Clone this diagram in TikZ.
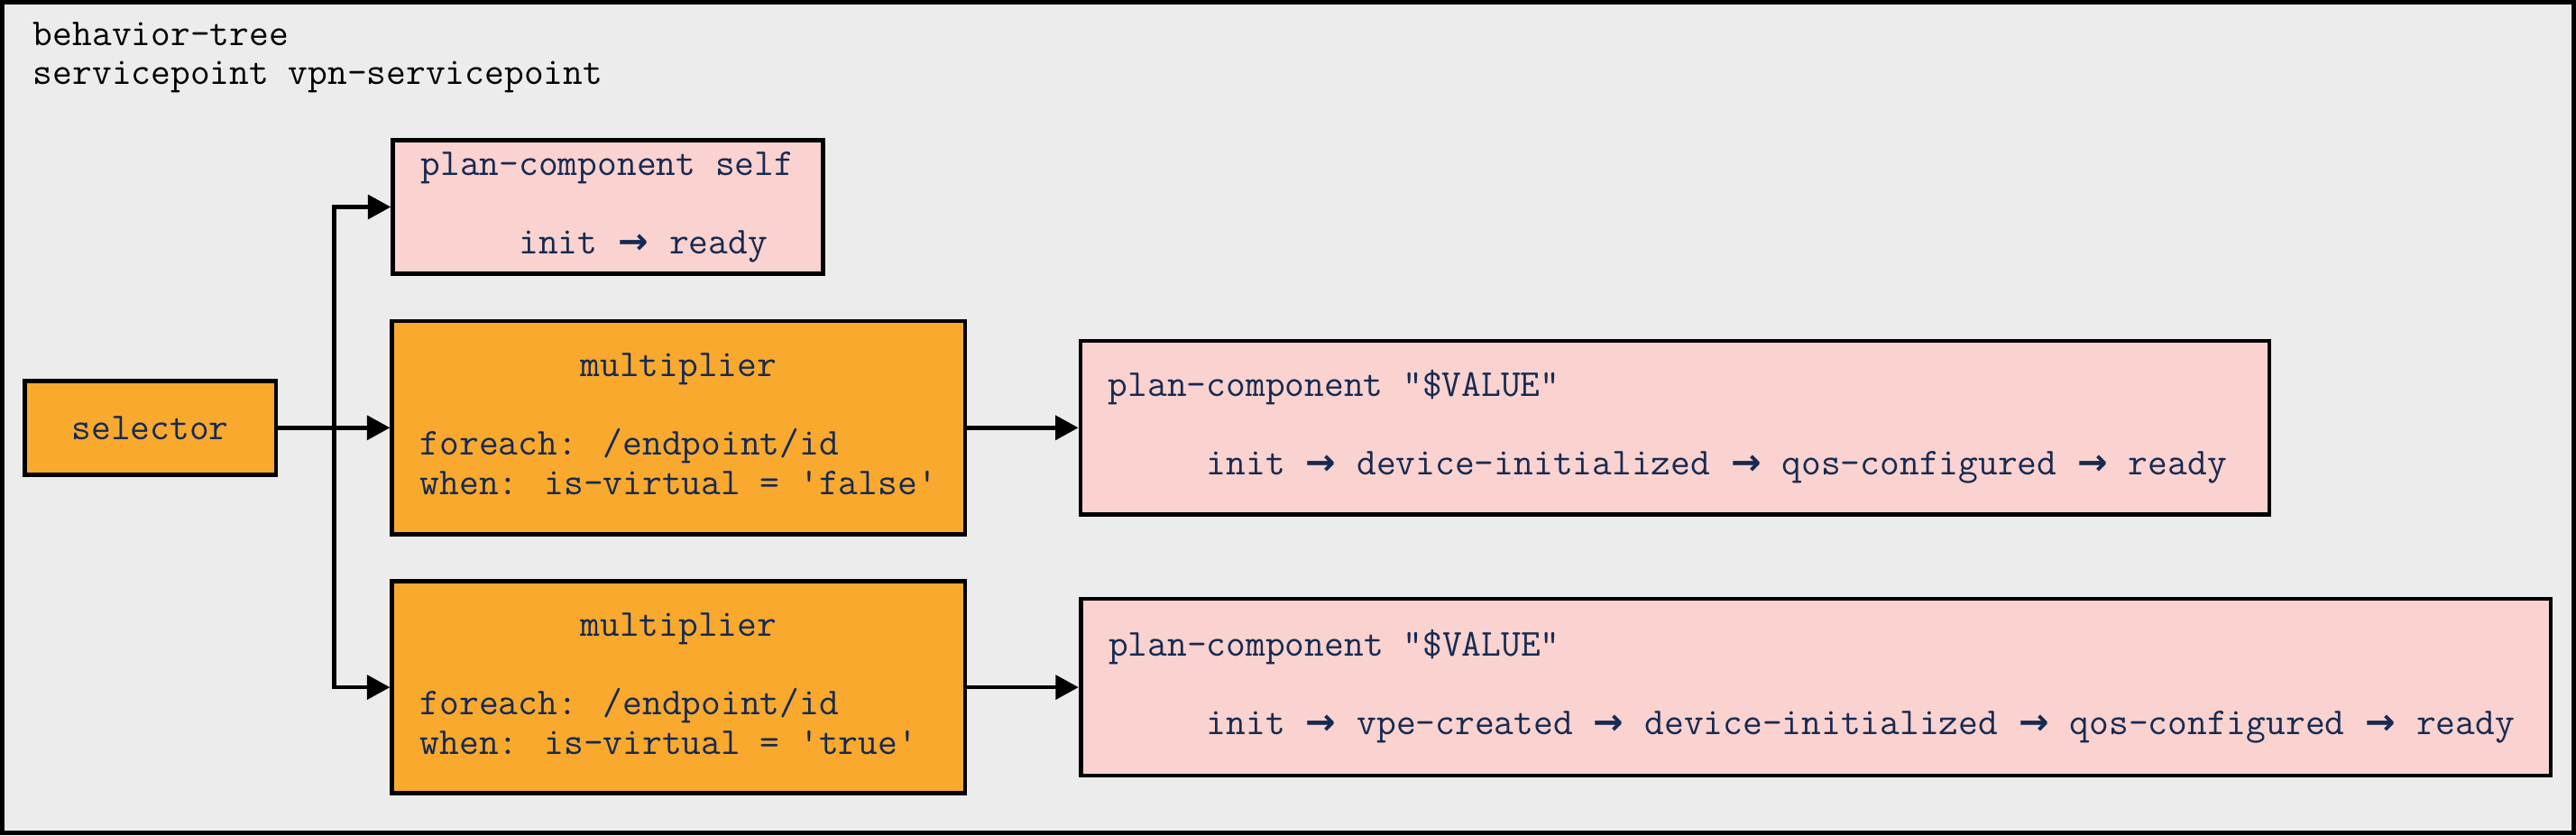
\documentclass[tikz,border=0pt]{standalone}
\usepackage{fontspec}
\newfontfamily\arrowfont{DejaVu Sans}
\usetikzlibrary{arrows.meta}
\definecolor{bggrey}{RGB}{236,236,236}
\definecolor{orangefill}{RGB}{249,169,46}
\definecolor{pinkfill}{RGB}{250,210,207}
\definecolor{navytext}{RGB}{22,42,82}
\newcommand{\nxt}{\makebox[9.9pt]{\arrowfont\bfseries\fontsize{11}{12}\selectfont →}}

\begin{document}
\begin{tikzpicture}[x=0.5pt, y=-0.5pt, line width=1.3pt, >={Triangle[length=7pt,width=7.3pt]}]
\tikzstyle{every node} = [font=\ttfamily\fontsize{11.6}{12}\selectfont, inner ysep=0pt, inner xsep=8.5pt]
\tikzstyle{plan} = [draw=black, fill=pinkfill, text=navytext]
\tikzstyle{mult} = [draw=black, fill=orangefill, text=navytext]
\useasboundingbox (0,0) rectangle (1568,508.4);
\draw[fill=bggrey, line width=1.4pt] (1.4,1.4) rectangle (1566.6,507);
\node[anchor=base west, inner sep=0pt] (title) at (19,27.5) {\begin{tabular}[t]{@{}l@{}}behavior-tree\\servicepoint vpn-servicepoint\end{tabular}};
\node[mult, inner sep=0pt, minimum width=76.5pt, minimum height=28.5pt] (sel) at (91.5,260.4) {selector};
\node[plan, minimum height=40.8pt] (self) at (370,126) {\begin{tabular}{@{}p{113.8pt}@{}}plan-component self\\ \\ ~~~~~init \nxt{} ready\end{tabular}};
\node[mult, minimum height=64.9pt] (mfalse) at (413.1,260.4) {\begin{tabular}{@{}p{157.4pt}@{}}\makebox[\linewidth]{multiplier}\\ \\ foreach: /endpoint/id\\ when: is-virtual = 'false'\end{tabular}};
\node[mult, minimum height=64.6pt] (mtrue) at (413.1,418.4) {\begin{tabular}{@{}p{157.4pt}@{}}\makebox[\linewidth]{multiplier}\\ \\ foreach: /endpoint/id\\ when: is-virtual = 'true'\end{tabular}};
\node[plan, minimum height=52.9pt] (pfalse) at (1019.5,260.4) {\begin{tabular}{@{}p{344.8pt}@{}}plan-component "\$VALUE"\\ \\ ~~~~~init \nxt{} device-initialized \nxt{} qos-configured \nxt{} ready\end{tabular}};
\node[plan, minimum height=53.8pt] (ptrue) at (1105.2,418.4) {\begin{tabular}{@{}p{430.4pt}@{}}plan-component "\$VALUE"\\ \\ ~~~~~init \nxt{} vpe-created \nxt{} device-initialized \nxt{} qos-configured \nxt{} ready\end{tabular}};
\coordinate (fork) at (203.4,260.4);
\draw[->] (sel) -- (mfalse);
\draw[->] (fork) |- (self.west);
\draw[->] (fork) |- (mtrue.west);
\draw[->] (mfalse) -- (pfalse);
\draw[->] (mtrue) -- (ptrue);
\end{tikzpicture}
\end{document}
